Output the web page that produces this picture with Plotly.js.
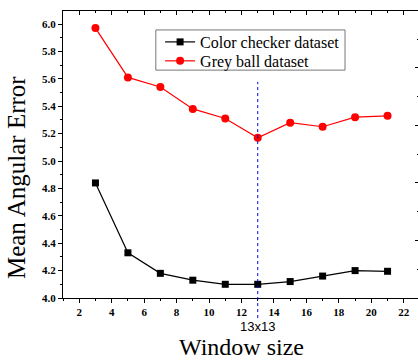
<!DOCTYPE html>
<html><head><meta charset="utf-8">
<script src="https://cdn.plot.ly/plotly-3.0.1.min.js"></script>
<style>html,body{margin:0;padding:0;overflow:hidden;background:#fff}#chart{width:424px;height:360px}</style>
</head><body><div id="chart"></div>
<script>
var windowSizes = [3, 5, 7, 9, 11, 13, 15, 17, 19, 21];
var colorChecker = [4.84, 4.33, 4.18, 4.13, 4.10, 4.10, 4.12, 4.16, 4.20, 4.195];
var greyBall = [5.97, 5.61, 5.54, 5.38, 5.31, 5.17, 5.28, 5.25, 5.32, 5.33];
var seriesNames = ["Color checker dataset", "Grey ball dataset"];
var markedX = 13;
var markedLabel = "13x13";
var yTitle = "Mean Angular Error";
var xTitle = "Window size";

var serif = "Liberation Serif, Times New Roman, serif";
var traces = [
  {x: windowSizes, y: colorChecker, name: seriesNames[0], mode: "lines+markers", legend: "legend",
   line: {color: "#000", width: 1.2}, marker: {symbol: "square", size: 7, color: "#000"}},
  {x: windowSizes, y: greyBall, name: seriesNames[1], mode: "lines+markers", legend: "legend2",
   line: {color: "#ff0000", width: 1.2}, marker: {symbol: "circle", size: 8, color: "#ff0000"}},
  {x: [1], y: [0], xaxis: "x2", yaxis: "y2", showlegend: false, mode: "markers",
   marker: {opacity: 0}, hoverinfo: "skip"}
];

var tickFont = {family: serif, size: 11, color: "#000", weight: "bold"};
var legFont = {family: serif, size: 16, color: "#000"};
var layout = {
  width: 424, height: 360,
  margin: {l: 63, r: 4, t: 11, b: 62},
  paper_bgcolor: "#fff", plot_bgcolor: "#fff",
  showlegend: true,
  legend: {x: 0.272, y: 0.892, xanchor: "left", yanchor: "middle",
    borderwidth: 0, bgcolor: "rgba(0,0,0,0)", font: legFont},
  legend2: {x: 0.272, y: 0.826, xanchor: "left", yanchor: "middle",
    borderwidth: 0, bgcolor: "rgba(0,0,0,0)", font: legFont},
  xaxis: {range: [1, 23], dtick: 2, tick0: 0, ticks: "outside", ticklen: 4, tickwidth: 1,
    tickcolor: "#000", showline: true, linecolor: "#000", linewidth: 1, showgrid: false,
    zeroline: false, tickfont: tickFont,
    minor: {dtick: 1, ticks: "outside", ticklen: 2, tickcolor: "#000"},
    title: {text: xTitle, standoff: 30, font: {family: serif, size: 24, color: "#000"}}},
  yaxis: {range: [4.0, 6.095], dtick: 0.2, tick0: 4, ticks: "outside", ticklen: 4, tickwidth: 1,
    tickcolor: "#000", showline: true, linecolor: "#000", linewidth: 1, showgrid: false,
    zeroline: false, tickfont: tickFont, tickformat: ".1f",
    minor: {dtick: 0.1, ticks: "outside", ticklen: 2, tickcolor: "#000"}},
  xaxis2: {overlaying: "x", side: "top", range: [1, 23], dtick: 2, tick0: 0,
    ticks: "inside", ticklen: 4, tickcolor: "#000", showticklabels: false,
    showline: true, linecolor: "#000", showgrid: false, zeroline: false,
    minor: {dtick: 1, ticks: "inside", ticklen: 2, tickcolor: "#000"}},
  yaxis2: {overlaying: "y", side: "right", range: [0, 4.99], dtick: 1, tick0: 0,
    ticks: "inside", ticklen: 5, tickcolor: "#000", showticklabels: false,
    showline: true, linecolor: "#000", showgrid: false, zeroline: false,
    minor: {dtick: 0.5, ticks: "inside", ticklen: 3, tickcolor: "#000"}},
  shapes: [
    {type: "line", xref: "x", yref: "paper", x0: markedX, x1: markedX,
     y0: -0.07, y1: 0.753, line: {color: "#0000dd", width: 1, dash: "dot"}},
    {type: "rect", xref: "paper", yref: "paper", x0: 0.26, x1: 0.79, y0: 0.794, y1: 0.934,
     line: {color: "#777", width: 1}, fillcolor: "rgba(0,0,0,0)"}
  ],
  annotations: [
    {x: markedX, xref: "x", y: -0.1, yref: "paper", yanchor: "middle",
     text: markedLabel, showarrow: false,
     font: {family: "Liberation Sans, Arial, sans-serif", size: 13, color: "#000"}},
    {x: -0.13, xref: "paper", y: 0.42, yref: "paper", xanchor: "center", yanchor: "middle",
     text: yTitle, textangle: -90, showarrow: false,
     font: {family: serif, size: 25, color: "#000"}}
  ]
};
Plotly.newPlot("chart", traces, layout, {staticPlot: true});
</script></body></html>
